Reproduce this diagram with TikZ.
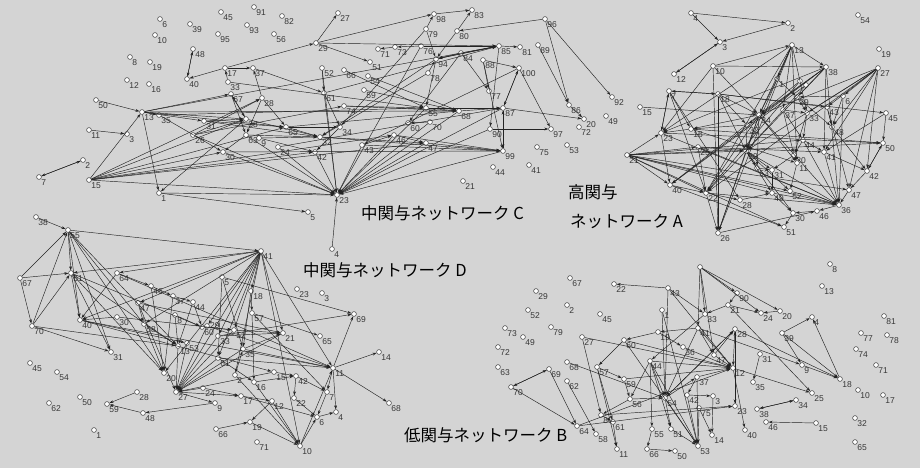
\documentclass[tikz,border=0pt]{standalone}
\usepackage{fontspec}
\setmainfont{Liberation Sans}
\newfontfamily\jpfont{Noto Sans CJK JP}
\usetikzlibrary{arrows.meta}
\definecolor{bgc}{RGB}{212,212,212}
\definecolor{edc}{RGB}{35,35,35}
\definecolor{lbc}{RGB}{55,55,55}
\definecolor{ndc}{RGB}{50,50,50}
\tikzset{
  nd/.style={circle,draw=ndc,fill=white,line width=0.5pt,inner sep=0pt,minimum size=4.8pt},
  lb/.style={font=\fontsize{8.5}{8.5}\selectfont,text=lbc,inner sep=0.3pt},
  ed/.style={draw=edc,line width=0.45pt,-{Stealth[length=4pt,width=2.8pt]}},
  ttl/.style={font=\jpfont\fontsize{16.5}{18}\selectfont,text=black,anchor=west,inner sep=0pt}
}
\begin{document}
\begin{tikzpicture}[x=1pt,y=-1pt,label distance=0pt]
\fill[bgc] (0,0) rectangle (920,468);
\useasboundingbox (0,0) rectangle (920,468);
% ---------------- network C
\foreach \n/\x/\y/\l in {c6/160/19/6,c45/221/12/45,c91/254/7/91,c82/282/16/82,c39/190/24/39,c95/218/34/95,c93/247/25/93,c56/274/34/56,c10/155/35/10,c48/193/49/48,c8/130/57/8,c19/150/62/19,c40/187/79/40,c17/225/68/17,c37/253/68/37,c33/228/82/33,c12/127/80/12,c16/149/84/16,c50/96/100/50,c13/142/112/13,c35/159/115/35,c67/231/94/67,c28/262/98/28,c31/204/121/31,c38/246/119/38,c65/286/127/65,c26/193/135/26,c63/246/135/63,c9/259/138/9,c24/278/147/24,c30/223/152/30,c11/89/130/11,c3/127/134/3,c2/83/160/2,c7/39/177/7,c15/89/180/15,c1/159/193/1,c5/308/212/5,c27/338/13/27,c98/434/14/98,c83/472/10/83,c96/545/19/96,c79/426/29/79,c80/457/31/80,c29/316/43/29,c71/378/49/71,c73/395/47/73,c76/421/46/76,c85/499/46/85,c81/520/47/81,c89/538/45/89,c84/461/53/84,c51/370/62/51,c94/436/59/94,c88/483/60/88,c100/519/68/100,c52/322/68/52,c66/344/70/66,c54/368/76/54,c78/428/73/78,c59/364/90/59,c61/324/93/61,c77/489/91/77,c92/612/97/92,c74/344/106/74,c55/426/108/55,c68/459/111/68,c87/503/108/87,c86/569/105/86,c20/584/119/20,c49/606/116/49,c72/579/127/72,c60/408/123/60,c70/430/122/70,c34/340/127/34,c90/490/129/90,c97/551/129/97,c32/320/137/32,c46/394/135/46,c47/426/143/47,c43/362/145/43,c42/315/152/42,c99/503/151/99,c75/537/147/75,c53/567/145/53,c44/493/167/44,c41/529/165/41,c21/463/181/21,c23/337/195/23,c4/332/249/4}
  \node[nd,label={[lb]-45:\l}] (\n) at (\x,\y) {};
\foreach \s/\t in {c48/c40,c40/c48,c17/c40,c33/c17,c17/c37,c28/c37,c17/c29,c37/c61,c33/c55,c13/c67,c67/c38,c38/c67,c13/c1,c50/c13,c11/c3,c2/c7,c7/c2,c15/c13,c15/c28,c15/c38,c15/c30,c15/c65,c15/c23,c15/c42,c15/c47,c15/c46,c1/c5,c38/c1,c1/c23,c13/c35,c13/c31,c13/c38,c13/c65,c13/c85,c13/c68,c35/c30,c26/c38,c26/c28,c31/c38,c31/c65,c31/c32,c30/c23,c63/c30,c63/c32,c9/c32,c24/c23,c65/c32,c65/c34,c65/c68,c28/c65,c28/c63,c67/c63,c35/c55,c26/c74,c29/c27,c29/c51,c29/c98,c29/c85,c98/c83,c80/c83,c79/c98,c96/c80,c96/c86,c96/c92,c89/c86,c85/c81,c76/c73,c73/c71,c76/c85,c94/c85,c84/c94,c84/c85,c88/c100,c100/c87,c87/c100,c87/c99,c99/c87,c100/c97,c87/c20,c86/c20,c88/c77,c84/c77,c80/c94,c79/c94,c78/c94,c94/c55,c55/c68,c54/c68,c66/c55,c52/c61,c61/c23,c52/c23,c74/c55,c59/c68,c70/c60,c46/c47,c43/c46,c42/c23,c43/c23,c47/c23,c46/c23,c90/c23,c99/c23,c87/c23,c55/c23,c70/c23,c68/c23,c76/c23,c79/c34,c90/c97,c47/c99,c46/c99,c43/c99,c32/c99,c68/c87,c55/c87,c4/c23,c61/c34,c34/c42,c74/c68,c85/c94,c61/c85,c94/c32,c78/c32,c84/c60,c85/c90,c88/c99,c100/c43,c32/c47,c9/c42,c24/c87,c38/c32,c26/c23,c30/c99,c63/c23}
  \draw[ed] (\s) -- (\t);
% ---------------- network A
\foreach \n/\x/\y/\l in {a4/691/13/4,a2/788/23/2,a54/858/15/54,a3/720/42/3,a13/792/45/13,a19/879/49/19,a12/674/74/12,a10/713/66/10,a38/826/67/38,a27/878/68/27,a1/777/79/1,a9/800/81/,a5/806/85/,a7/669/91/7,a18/718/94/18,a29/797/97/29,a6/843/96/6,a15/640/107/15,a43/827/107/43,a45/886/113/45,a34/759/115/34,a37/783/110/37,a33/807/113/33,a32/747/125/32,a16/691/129/16,a23/661/133/23,a48/832/127/48,a44/803/140/44,a50/883/143/50,a25/698/147/25,a39/746/151/39,a41/824/152/41,a21/627/155/21,a20/794/155/20,a11/797/163/11,a53/757/168/53,a31/772/170/31,a42/867/171/42,a40/670/185/40,a22/706/193/22,a47/849/190/47,a28/740/200/28,a49/772/193/49,a52/790/191/52,a36/839/205/36,a46/817/211/46,a30/793/213/30,a51/784/227/51,a26/718/233/26}
  \node[nd,label={[lb]-45:\l}] (\n) at (\x,\y) {};
\foreach \s/\t in {a4/a2,a4/a3,a2/a3,a3/a12,a12/a3,a10/a13,a13/a38,a10/a38,a10/a26,a10/a23,a7/a18,a18/a7,a7/a23,a23/a7,a7/a22,a7/a28,a15/a34,a18/a45,a18/a43,a27/a6,a27/a43,a27/a48,a27/a33,a27/a39,a27/a47,a27/a42,a27/a34,a38/a34,a38/a23,a38/a36,a38/a41,a38/a32,a38/a29,a45/a50,a50/a42,a42/a50,a42/a47,a21/a39,a21/a36,a21/a40,a21/a44,a21/a47,a21/a52,a21/a49,a21/a51,a21/a22,a21/a25,a21/a23,a13/a34,a13/a39,a13/a26,a13/a22,a13/a11,a13/a37,a13/a23,a13/a1,a18/a26,a18/a39,a18/a34,a34/a26,a39/a26,a34/a22,a34/a36,a34/a11,a34/a53,a34/a40,a34/a16,a32/a16,a16/a23,a23/a40,a40/a22,a40/a51,a25/a39,a25/a22,a22/a26,a26/a46,a28/a49,a22/a28,a39/a53,a39/a31,a39/a49,a39/a52,a39/a30,a39/a36,a53/a31,a31/a49,a20/a31,a20/a11,a11/a52,a44/a20,a44/a41,a44/a36,a33/a20,a33/a44,a37/a44,a37/a20,a29/a48,a48/a42,a43/a48,a43/a47,a6/a29,a6/a36,a41/a36,a41/a42,a47/a36,a36/a46,a46/a30,a30/a51,a49/a30,a52/a36,a49/a36,a22/a36,a16/a11,a25/a36,a23/a36,a1/a34,a1/a29,a9/a34,a9/a22,a29/a33,a37/a33,a7/a16,a32/a39,a34/a39,a38/a22,a27/a41,a6/a48,a21/a50,a23/a50,a16/a50,a25/a41,a18/a32,a5/a39,a5/a40,a10/a34,a38/a40,a27/a22,a13/a33,a45/a41}
  \draw[ed] (\s) -- (\t);
% ---------------- network D
\foreach \n/\x/\y/\l in {d38/36/217/38,d55/68/230/55,d67/20/278/67,d51/71/273/51,d64/117/273/64,d46/151/286/46,d37/173/296/37,d44/193/302/44,d47/138/303/47,d30/117/317/30,d40/80/320/40,d8/175/315/8,d58/144/324/58,d60/202/327/60,d70/32/326/70,d13/178/346/13,d53/187/343/53,d31/111/352/31,d45/30/363/45,d54/57/372/54,d20/164/373/20,d27/176/392/27,d28/137/392/28,d24/203/388/24,d50/80/397/50,d62/49/403/62,d59/107/404/59,d48/143/413/48,d1/94/430/1,d41/261/251/41,d5/222/277/5,d18/251/291/18,d23/297/289/23,d3/322/293/3,d57/252/313/57,d69/354/314/69,d52/234/330/52,d21/283/333/21,d33/218/336/33,d65/320/336/65,d35/243/349/35,d61/218/358/61,d14/379/352/14,d11/333/368/11,d15/274/372/15,d42/296/376/42,d2/235/375/2,d16/254/382/16,d7/327/392/7,d17/241/396/17,d12/272/401/12,d22/294/398/22,d9/215/403/9,d6/317/417/6,d4/336/412/4,d68/389/403/68,d19/250/422/19,d66/216/429/66,d71/257/442/71,d10/300/446/10}
  \node[nd,label={[lb]-45:\l}] (\n) at (\x,\y) {};
\node[nd,label={[lb]0:29}] (d29) at (207,326) {};
\foreach \s/\t in {d38/d55,d67/d55,d67/d51,d67/d70,d70/d55,d70/d51,d55/d51,d55/d40,d55/d31,d55/d20,d55/d58,d55/d13,d55/d41,d51/d40,d51/d31,d51/d20,d51/d13,d51/d60,d41/d51,d41/d64,d41/d40,d41/d20,d41/d27,d41/d10,d41/d11,d41/d58,d41/d47,d41/d2,d41/d21,d41/d33,d41/d29,d41/d52,d41/d18,d18/d57,d57/d65,d41/d61,d64/d46,d46/d37,d37/d44,d47/d58,d30/d40,d70/d13,d70/d31,d46/d20,d44/d60,d8/d60,d47/d27,d58/d20,d37/d20,d13/d27,d53/d27,d33/d27,d61/d27,d35/d27,d29/d27,d52/d27,d21/d27,d15/d27,d24/d27,d27/d9,d27/d17,d28/d59,d48/d59,d9/d48,d66/d19,d19/d10,d12/d10,d10/d6,d10/d11,d11/d7,d11/d4,d7/d6,d6/d4,d11/d14,d11/d68,d11/d69,d5/d69,d42/d22,d15/d42,d22/d6,d42/d7,d33/d21,d52/d21,d35/d21,d2/d35,d16/d10,d17/d6,d12/d19,d2/d10,d35/d11,d61/d11,d29/d11,d33/d69,d64/d11,d5/d35,d5/d61,d40/d53,d40/d11,d47/d21,d58/d13,d30/d52,d40/d15,d61/d16,d17/d12,d16/d42,d57/d16,d18/d35,d24/d17,d64/d40,d44/d13,d8/d13,d60/d52,d57/d7}
  \draw[ed] (\s) -- (\t);
% ---------------- network B
\foreach \n/\x/\y/\l in {b67/570/278/67,b22/614/284/22,b43/668/288/43,b29/536/291/29,b2/567/305/2,b52/528/310/52,b45/600/314/45,b1/662/310/1,b33/705/314/33,b73/505/328/73,b79/551/327/79,b49/523/337/49,b41/698/328/41,b19/658/332/19,b27/582/337/27,b60/624/340/60,b72/498/347/72,b36/683/347/36,b63/498/367/63,b68/567/362/68,b57/597/367/57,b44/650/361/44,b69/549/369/69,b59/624/379/59,b62/567/381/62,b37/697/377/37,b70/511/387/70,b54/665/398/54,b42/687/395/42,b56/630/399/56,b75/699/408/75,b80/601/415/80,b61/613/422/61,b64/577/426/64,b58/596/434/58,b55/652/429/55,b51/671/429/51,b11/617/449/11,b66/647/449/66,b50/675/451/50,b53/698/446/53,b14/712/435/14,b3/713/396/3,b0/700/267/,b90/737/293/90,b21/728/305/21,b24/761/313/24,b20/780/311/20,b4/812/317/4,b8/830/264/8,b13/822/286/13,b81/884/316/81,b28/735/329/28,b77/861/333/77,b78/887/335/78,b39/782/333/39,b74/856/349/74,b31/760/354/31,b47/714/355/47,b71/876/365/71,b9/802/365/9,b12/733/368/12,b18/840/379/18,b35/753/382/35,b10/858/390/10,b17/883/395/17,b25/812/393/25,b23/735/406/23,b34/796/400/34,b38/757/409/38,b32/855/418/32,b46/766/422/46,b15/816/423/15,b40/745/430/40,b65/855/442/65}
  \node[nd,label={[lb]-45:\l}] (\n) at (\x,\y) {};
\foreach \s/\t in {b43/b22,b43/b33,b0/b41,b0/b33,b0/b90,b0/b24,b0/b20,b20/b24,b21/b24,b21/b25,b21/b33,b90/b21,b39/b4,b18/b4,b39/b9,b9/b18,b39/b18,b28/b18,b41/b9,b43/b54,b43/b12,b1/b54,b1/b53,b19/b60,b41/b19,b19/b36,b60/b57,b60/b53,b60/b12,b27/b80,b27/b12,b44/b12,b44/b55,b44/b54,b44/b53,b57/b59,b57/b11,b59/b56,b56/b80,b80/b23,b59/b12,b69/b70,b70/b69,b69/b64,b70/b64,b68/b54,b62/b58,b61/b11,b80/b61,b55/b66,b66/b50,b54/b53,b51/b53,b42/b53,b3/b14,b75/b53,b37/b53,b75/b14,b28/b23,b23/b28,b28/b12,b47/b28,b41/b12,b31/b35,b38/b34,b34/b38,b15/b46,b12/b40,b64/b12,b64/b23,b42/b3,b37/b12,b56/b54,b54/b28,b47/b12,b36/b12,b54/b37,b41/b47,b12/b25,b37/b42,b44/b51,b54/b51,b33/b44,b41/b54,b57/b61,b44/b56,b28/b54,b0/b47}
  \draw[ed] (\s) -- (\t);
% ---------------- titles
\node[ttl] (tC) at (361,213) {中関与ネットワーク C};
\node[ttl] (tA1) at (568,192) {高関与};
\node[ttl] (tA2) at (570,221) {ネットワーク A};
\node[ttl] (tD) at (303,270) {中関与ネットワーク D};
\node[ttl] (tB) at (404,435) {低関与ネットワーク B};
\end{tikzpicture}
\end{document}
